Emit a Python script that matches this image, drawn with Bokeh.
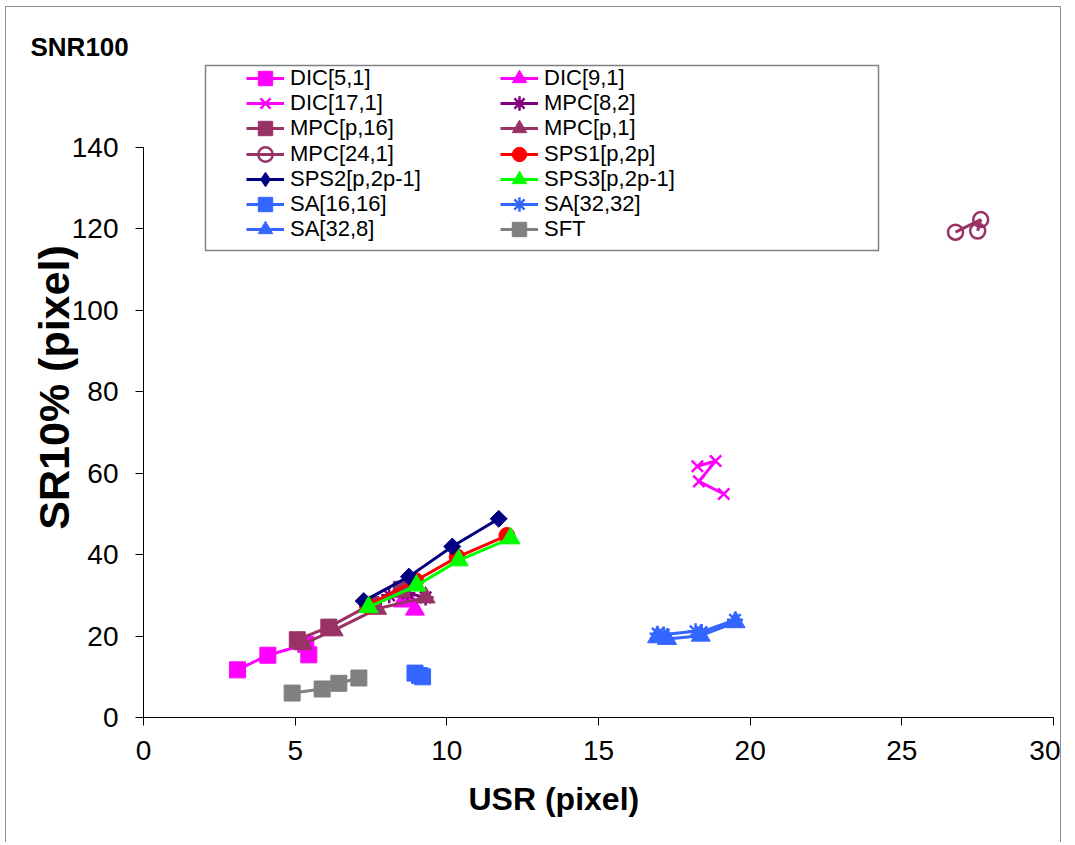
import numpy as np
from bokeh.plotting import figure
from bokeh.models import (Range1d, FixedTicker, Legend, LegendItem, BoxAnnotation, Title)
from bokeh.embed import file_html
from bokeh.resources import INLINE

# ---------------- data ----------------
x_ticks = [0, 5, 10, 15, 20, 25, 30]
y_ticks = [0, 20, 40, 60, 80, 100, 120, 140]

dic51_x = [3.1, 4.1, 5.35, 5.45]
dic51_y = [11.7, 15.3, 18.0, 15.4]
dic91_x = [8.55, 8.7, 8.95]
dic91_y = [28.5, 29.5, 26.5]
dic171_x = [18.26, 18.86, 18.31, 19.13]
dic171_y = [61.7, 63.0, 58.0, 54.9]
mpc82_x = [7.6, 8.1, 8.7, 9.3]
mpc82_y = [28.0, 30.0, 30.5, 29.5]
mpcp16_x = [5.07, 6.11, 7.5, 8.5]
mpcp16_y = [19.1, 22.2, 27.8, 31.5]
mpcp1_x = [5.25, 6.27, 7.7, 9.3]
mpcp1_y = [18.0, 21.4, 26.7, 29.5]
mpc241_x = [26.77, 27.6, 27.5]
mpc241_y = [119.2, 122.3, 119.5]
sps1_x = [7.38, 8.97, 10.34, 11.98]
sps1_y = [27.5, 33.6, 39.4, 44.7]
sps2_x = [7.26, 8.75, 10.18, 11.71]
sps2_y = [28.6, 34.6, 42.0, 48.8]
sps3_x = [7.42, 9.0, 10.39, 12.1]
sps3_y = [27.1, 32.4, 38.6, 44.0]
sa1616_x = [8.95, 9.1, 9.2]
sa1616_y = [10.9, 10.3, 10.0]
sa3232_x = [16.95, 17.15, 18.2, 18.4, 19.5]
sa3232_y = [20.6, 20.4, 21.2, 21.0, 24.0]
sa328_x = [16.93, 17.26, 18.37, 19.52]
sa328_y = [19.7, 19.3, 20.1, 23.4]
sft_x = [4.9, 5.89, 6.44, 7.1]
sft_y = [6.0, 7.0, 8.4, 9.7]

series = [
    ("DIC[5,1]", dic51_x, dic51_y, "#FF00FF", "square"),
    ("DIC[9,1]", dic91_x, dic91_y, "#FF00FF", "triangle"),
    ("DIC[17,1]", dic171_x, dic171_y, "#FF00FF", "x"),
    ("MPC[8,2]", mpc82_x, mpc82_y, "#800080", "asterisk"),
    ("MPC[p,16]", mpcp16_x, mpcp16_y, "#993366", "square"),
    ("MPC[p,1]", mpcp1_x, mpcp1_y, "#993366", "triangle"),
    ("MPC[24,1]", mpc241_x, mpc241_y, "#993366", "circle_open"),
    ("SPS1[p,2p]", sps1_x, sps1_y, "#FF0000", "circle"),
    ("SPS2[p,2p-1]", sps2_x, sps2_y, "#000080", "diamond"),
    ("SPS3[p,2p-1]", sps3_x, sps3_y, "#00FF00", "triangle"),
    ("SA[16,16]", sa1616_x, sa1616_y, "#3366FF", "square"),
    ("SA[32,32]", sa3232_x, sa3232_y, "#3366FF", "asterisk"),
    ("SA[32,8]", sa328_x, sa328_y, "#3366FF", "triangle"),
    ("SFT", sft_x, sft_y, "#808080", "square"),
]

FONT = "Liberation Sans"

p = figure(width=1056, height=836, output_backend="svg", toolbar_location=None,
           title="SNR100",
           x_range=Range1d(0, 30), y_range=Range1d(0, 162.11),
           min_border_left=137, min_border_right=9, min_border_top=50, min_border_bottom=126)
p.styles = {"margin-left": "5px", "margin-top": "6px",
            "border-top": "1px solid #8c8c8c", "border-left": "1px solid #8c8c8c",
            "border-right": "1px solid #8c8c8c"}
p.outline_line_color = None
p.xgrid.visible = False
p.ygrid.visible = False
p.background_fill_color = "white"
p.border_fill_color = "white"

p.title.align = "left"
p.title.offset = -113
p.title.text_font = FONT
p.title.text_font_style = "bold"
p.title.text_font_size = "26px"
p.title.text_color = "black"
p.title.standoff = -9

for ax, ticks, bnds in ((p.xaxis[0], x_ticks, (0, 30)), (p.yaxis[0], y_ticks, (0, 140))):
    ax.ticker = FixedTicker(ticks=ticks)
    ax.bounds = bnds
    ax.axis_line_color = "black"
    ax.axis_line_width = 1
    ax.major_tick_line_color = "black"
    ax.major_tick_out = 8
    ax.major_tick_in = 0
    ax.minor_tick_line_color = None
    ax.major_label_text_font = FONT
    ax.major_label_text_font_size = "28px"
    ax.major_label_text_color = "black"
    ax.axis_label_text_font = FONT
    ax.axis_label_text_font_style = "bold"
    ax.axis_label_text_color = "black"

p.xaxis.major_label_standoff = 15
xlab = Title(text="USR (pixel)", align="left", offset=325, standoff=32,
             text_font=FONT, text_font_style="bold", text_font_size="32px",
             text_color="black")
p.add_layout(xlab, "below")

p.yaxis.axis_label = "SR10% (pixel)"
p.yaxis.axis_label_text_font_size = "43px"
p.yaxis.major_label_standoff = 17
p.yaxis.axis_label_standoff = -9

items = []
for name, xs, ys, col, mk in series:
    lr = p.line(xs, ys, line_color=col, line_width=3)
    rends = [lr]
    if mk == "circle_open":
        sr = p.scatter(xs, ys, marker="circle", size=15, line_color=col, line_width=2.5,
                       fill_color="white", fill_alpha=0)
        rends.append(sr)
    elif mk == "diamond":
        # narrow diamond (used for the key) under a square turned 45 degrees
        kr = p.scatter(xs, ys, marker="diamond", size=14, line_color=col, fill_color=col)
        p.scatter(xs, ys, marker="square", angle=np.pi / 4, size=12, line_color=col,
                  fill_color=col)
        rends.append(kr)
    elif mk in ("x", "asterisk"):
        sr = p.scatter(xs, ys, marker=mk, size=16, line_color=col, line_width=2.5)
        rends.append(sr)
    elif mk == "triangle":
        sr = p.scatter(xs, ys, marker=mk, size=19, line_color=col, fill_color=col)
        rends.append(sr)
    else:
        sr = p.scatter(xs, ys, marker=mk, size=16, line_color=col, fill_color=col)
        rends.append(sr)
    items.append(LegendItem(label=name, renderers=rends))

box = BoxAnnotation(left=62, right=735, bottom=467, top=652,
                    left_units="screen", right_units="screen",
                    top_units="screen", bottom_units="screen",
                    fill_color="white", fill_alpha=1.0,
                    line_color="#808080", line_width=1.5, line_alpha=1.0)
p.add_layout(box)

# one key entry per legend so the rows can sit 25 px apart
ROW0 = 639          # centre of first key row, px above the frame bottom
PITCH = 25.2
GH = 36
COLX = (103, 357)
for i, it in enumerate(items):
    r, c = divmod(i, 2)
    yb = int(round(ROW0 - r * PITCH - GH / 2))
    leg = Legend(items=[it], location=(COLX[c], yb), orientation="vertical",
                 padding=0, margin=0, spacing=0,
                 glyph_width=38, glyph_height=GH, label_height=22, label_standoff=6,
                 border_line_alpha=0, background_fill_alpha=0,
                 label_text_font=FONT, label_text_font_size="22px",
                 label_text_color="black")
    p.add_layout(leg)

open("out.html", "w").write(file_html(p, INLINE))
